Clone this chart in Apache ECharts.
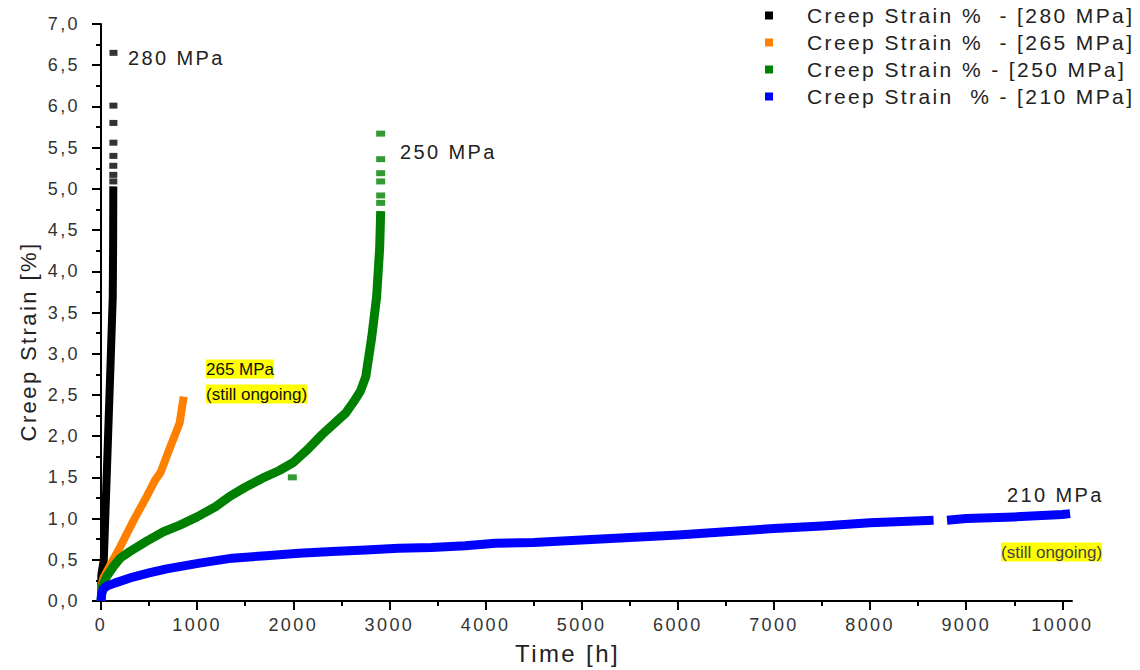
<!DOCTYPE html>
<html><head><meta charset="utf-8">
<script src="https://cdn.jsdelivr.net/npm/echarts@6/dist/echarts.min.js"></script>
<style>
html,body{margin:0;padding:0;background:#fff;}
#c{width:1140px;height:670px;}
#c svg text{letter-spacing:2.4px;}
#c svg text[style*="Arial"]{letter-spacing:0;}
</style></head><body><div id="c"></div>
<script>
// ---- data ----
const seriesNames = ['Creep Strain %  - [280 MPa]', 'Creep Strain %  - [265 MPa]', 'Creep Strain % - [250 MPa]', 'Creep Strain  % - [210 MPa]'];
const timeTicks = [0, 1000, 2000, 3000, 4000, 5000, 6000, 7000, 8000, 9000, 10000];
const timeMinorTicks = [500, 1500, 2500, 3500, 4500, 5500, 6500, 7500, 8500, 9500];

const t280 = [0, 4, 29, 50, 75, 100, 122, 126, 128];
const s280 = [0, 0.32, 0.5, 1.2, 2.05, 2.9, 3.68, 4.3, 5.03];
const t280tail = [128, 128, 128, 129, 129, 129, 129, 130];
const s280tail = [5.09, 5.17, 5.28, 5.40, 5.56, 5.80, 6.01, 6.65];

const t265 = [0, 5, 25, 93, 197, 331, 476, 560, 620, 714, 818, 860];
const s265 = [0, 0.18, 0.28, 0.43, 0.65, 0.96, 1.27, 1.46, 1.56, 1.85, 2.16, 2.48];

const t250 = [0, 15, 60, 130, 200, 300, 480, 650, 820, 1000, 1200, 1340, 1500, 1680, 1850, 2000, 2150, 2300, 2450, 2545, 2630, 2700, 2754, 2816, 2867, 2899, 2909];
const s250 = [0, 0.18, 0.3, 0.42, 0.52, 0.6, 0.73, 0.84, 0.92, 1.02, 1.15, 1.27, 1.38, 1.49, 1.58, 1.68, 1.84, 2.02, 2.18, 2.28, 2.42, 2.55, 2.72, 3.2, 3.69, 4.29, 4.73];
const t250tail = [2909, 2909, 2909, 2909, 2909, 2909, 1990];
const s250tail = [4.83, 4.92, 5.09, 5.19, 5.36, 5.67, 1.50];

const t210 = [0, 5, 20, 59, 150, 331, 500, 683, 1025, 1366, 1718, 2060, 2402, 2754, 3095, 3437, 3789, 4100, 4500, 5000, 5500, 6000, 6500, 7000, 7500, 8000, 8660, 8730, 8800, 9000, 9500, 10000, 10080];
const s210 = [0, 0.08, 0.14, 0.18, 0.22, 0.29, 0.34, 0.39, 0.46, 0.52, 0.55, 0.58, 0.6, 0.62, 0.64, 0.65, 0.67, 0.7, 0.71, 0.74, 0.77, 0.8, 0.84, 0.88, 0.91, 0.95, 0.98, null, 0.98, 1.0, 1.02, 1.05, 1.06];

const colors = ['#000000', '#ff8000', '#008000', '#0000ff'];

// ---- build ----
const zip = (a, b) => a.map((v, i) => [v, b[i]]);
const F = "'Liberation Sans', sans-serif";
const FA = "'Liberation Sans', Arial";

const chart = echarts.init(document.getElementById('c'), null, {renderer: 'svg'});
chart.setOption({
  animation: false,
  backgroundColor: '#fff',
  grid: {left: 101, right: 68, top: 24, bottom: 63, containLabel: false},
  legend: {
    data: seriesNames,
    orient: 'vertical', left: 760, top: 0,
    icon: 'rect', itemWidth: 8, itemHeight: 8, itemGap: 6,
    selectedMode: false,
    textStyle: {fontFamily: F, fontSize: 21, color: '#222', padding: [0, 0, 0, 29]}
  },
  xAxis: [{
    type: 'value', min: 0, max: 10100, position: 'bottom',
    name: 'Time [h]', nameLocation: 'middle', nameGap: 40,
    nameTextStyle: {fontFamily: F, fontSize: 24, color: '#222', padding: [0, 38, 0, 0]},
    axisLine: {show: true, lineStyle: {color: '#000', width: 2}},
    axisTick: {show: true, customValues: timeTicks, length: 9, lineStyle: {color: '#000', width: 2}},
    axisLabel: {customValues: timeTicks, margin: 15, fontFamily: F, fontSize: 18, color: '#333',
      formatter: v => String(v)},
    splitLine: {show: false}
  }, {
    type: 'value', min: 0, max: 10100, position: 'bottom',
    axisLine: {show: false},
    axisTick: {show: true, customValues: timeMinorTicks, length: 5, lineStyle: {color: '#000', width: 2}},
    axisLabel: {show: false},
    splitLine: {show: false}
  }],
  yAxis: {
    type: 'value', min: 0, max: 7, interval: 0.5,
    name: 'Creep Strain [%]', nameLocation: 'middle', nameGap: 62,
    nameTextStyle: {fontFamily: F, fontSize: 22, color: '#222', padding: [0, 58, 0, 0]},
    axisLine: {show: true, lineStyle: {color: '#000', width: 2}},
    axisTick: {show: true, length: 9, lineStyle: {color: '#000', width: 2}},
    minorTick: {show: true, splitNumber: 2, length: 5, lineStyle: {color: '#000', width: 2}},
    axisLabel: {margin: 21, fontFamily: F, fontSize: 18, color: '#333',
      formatter: v => v.toFixed(1).replace('.', ',')},
    splitLine: {show: false}
  },
  series: [
    {name: seriesNames[0], type: 'line', data: zip(t280, s280), showSymbol: false, color: colors[0],
      lineStyle: {width: 8, color: colors[0], join: 'round'}},
    {name: seriesNames[0], type: 'scatter', data: zip(t280tail, s280tail), symbol: 'rect', symbolSize: [8, 6], color: colors[0]},
    {name: seriesNames[1], type: 'line', data: zip(t265, s265), showSymbol: false, color: colors[1],
      lineStyle: {width: 8, color: colors[1], join: 'round'}},
    {name: seriesNames[2], type: 'line', data: zip(t250, s250), showSymbol: false, color: colors[2],
      lineStyle: {width: 9, color: colors[2], join: 'round'}},
    {name: seriesNames[2], type: 'scatter', data: zip(t250tail, s250tail), symbol: 'rect', symbolSize: [9, 6], color: colors[2]},
    {name: seriesNames[3], type: 'line', data: zip(t210, s210), showSymbol: false, connectNulls: false, color: colors[3],
      lineStyle: {width: 9, color: colors[3], join: 'round'}}
  ],
  graphic: [
    {type: 'text', x: 128, y: 58, style: {text: '280 MPa', font: "20px " + F, fill: '#222', verticalAlign: 'middle'}},
    {type: 'text', x: 400, y: 152, style: {text: '250 MPa', font: "20px " + F, fill: '#222', verticalAlign: 'middle'}},
    {type: 'text', x: 1007, y: 495, style: {text: '210 MPa', font: "20px " + F, fill: '#222', verticalAlign: 'middle'}},
    {type: 'text', x: 206, y: 369, style: {text: '265 MPa', font: "17px " + FA, fill: '#111', verticalAlign: 'middle', backgroundColor: '#ffff00', padding: [1, 0]}},
    {type: 'text', x: 206, y: 394, style: {text: '(still ongoing)', font: "17px " + FA, fill: '#111', verticalAlign: 'middle', backgroundColor: '#ffff00', padding: [1, 0]}},
    {type: 'text', x: 1001, y: 552, style: {text: '(still ongoing)', font: "17px " + FA, fill: '#444', verticalAlign: 'middle', backgroundColor: '#ffff00', padding: [1, 0]}}
  ]
});
</script></body></html>
